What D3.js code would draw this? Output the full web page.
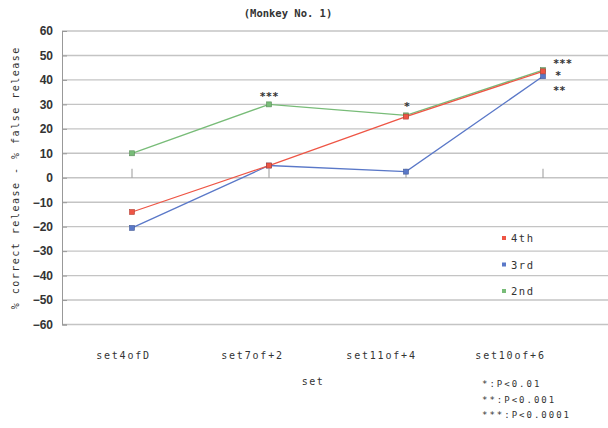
<!DOCTYPE html>
<html><head><meta charset="utf-8">
<script src="https://cdn.jsdelivr.net/npm/d3@7"></script>
<style>body{margin:0;background:#fff}svg{display:block}text{font-family:"DejaVu Sans Mono",monospace;fill:#333}</style>
</head><body>
<svg id="c" width="608" height="428"></svg>
<script>
const categories = ["set4ofD","set7of+2","set11of+4","set10of+6"];
const s4th = [-14, 5, 25, 43.5];
const s3rd = [-20.5, 5, 2.5, 41.5];
const s2nd = [10, 30, 25.5, 44];
const yTicks = [60,50,40,30,20,10,0,-10,-20,-30,-40,-50,-60];
const stars = [
  {cat:"set7of+2", v:31.9, t:"***", anchor:"middle", dx:0},
  {cat:"set11of+4", v:27.9, t:"*", anchor:"middle", dx:1},
  {cat:"set10of+6", v:45.2, t:"***", anchor:"start", dx:10},
  {cat:"set10of+6", v:40.3, t:"*", anchor:"start", dx:12},
  {cat:"set10of+6", v:34.3, t:"**", anchor:"start", dx:10}
];
const notes = ["*:P<0.01","**:P<0.001","***:P<0.0001"];
const series = [
  {name:"4th", values:s4th, color:"#ee5545"},
  {name:"3rd", values:s3rd, color:"#5a78c8"},
  {name:"2nd", values:s2nd, color:"#78bc78"}
];

const svg = d3.select("#c");
const pLeft = 62, pRight = 608;
const x = d3.scalePoint().domain(categories).range([132, 543]);
const xl = d3.scalePoint().domain(categories).range([123, 510]);
const y = d3.scaleLinear().domain([-60, 60]).range([324.5, 31]);

// title
svg.append("text").attr("x", 288).attr("y", 17).attr("text-anchor","middle").attr("font-size", 10.5)
  .attr("font-weight","bold").attr("letter-spacing", 0).text("(Monkey No. 1)");

// gridlines
svg.append("g").selectAll("line").data(yTicks).join("line")
  .attr("x1", pLeft).attr("x2", pRight).attr("y1", d=>y(d)).attr("y2", d=>y(d))
  .attr("stroke", "#c4c4c4").attr("stroke-width", 1.4);

// y axis (ticks inward)
const ya = svg.append("g").attr("transform", `translate(${pLeft},0)`)
  .call(d3.axisLeft(y).tickValues(yTicks).tickSize(-5).tickPadding(9));
ya.select(".domain").attr("stroke", "#999");
ya.selectAll(".tick line").attr("stroke", "#999");
ya.selectAll("text").attr("font-size", 12).attr("font-weight","bold").attr("fill", "#444")
  .style("font-family", '"Liberation Sans Narrow","Liberation Sans",sans-serif');

// small category ticks at zero line
svg.append("g").selectAll("line").data(categories).join("line")
  .attr("x1", d=>x(d)).attr("x2", d=>x(d)).attr("y1", y(0)-9).attr("y2", y(0))
  .attr("stroke", "#999").attr("stroke-width", 1);

// x labels
const xa = svg.append("g").attr("transform", `translate(0,352)`)
  .call(d3.axisBottom(xl).tickSize(0).tickPadding(0));
xa.select(".domain").remove();
xa.selectAll("text").attr("font-size", 10).attr("fill","#333").attr("letter-spacing", 1.8)
  .style("font-family", '"DejaVu Sans Mono",monospace');

svg.append("text").attr("x", 313).attr("y", 385).attr("text-anchor","middle").attr("font-size", 10)
  .attr("letter-spacing", 1.5).text("set");

// y title
svg.append("text").attr("transform", `translate(19,${(y(60)+y(-60))/2}) rotate(-90)`)
  .attr("text-anchor","middle").attr("font-size", 10).attr("letter-spacing", 1.5)
  .text("% correct release - % false release");

// lines
const line = d3.line().x((d,i)=>x(categories[i])).y(d=>y(d));
series.slice().reverse().forEach(s=>{
  svg.append("path").datum(s.values).attr("d", line).attr("fill","none")
    .attr("stroke", s.color).attr("stroke-width", 1.3);
});
series.slice().reverse().forEach(s=>{
  svg.append("g").selectAll("rect").data(s.values).join("rect")
    .attr("x",(d,i)=>x(categories[i])-2.5).attr("y",d=>y(d)-2.5).attr("width",5).attr("height",5)
    .attr("fill", s.color).attr("stroke", d3.color(s.color).darker(0.8)).attr("stroke-width",0.6);
});

// stars
svg.append("g").selectAll("text").data(stars).join("text")
  .attr("x", d=>x(d.cat)+d.dx).attr("y", d=>y(d.v)).attr("text-anchor", d=>d.anchor)
  .attr("font-size", 10.5).attr("font-weight","bold").attr("fill","#333").text(d=>d.t);

// legend
const lg = svg.append("g").attr("transform","translate(504,238)");
series.forEach((s,i)=>{
  const g = lg.append("g").attr("transform", `translate(0,${i*26.5})`);
  g.append("rect").attr("x",-2).attr("y",-2).attr("width",4).attr("height",4).attr("fill", s.color);
  g.append("text").attr("x", 7).attr("y", 4).attr("font-size", 10.5).attr("letter-spacing", 1.5).text(s.name);
});

// notes
svg.append("g").selectAll("text").data(notes).join("text")
  .attr("x", 482).attr("y",(d,i)=>387+i*15.5).attr("font-size", 9).attr("letter-spacing", 2)
  .attr("fill","#333").text(d=>d);
</script>
</body></html>
